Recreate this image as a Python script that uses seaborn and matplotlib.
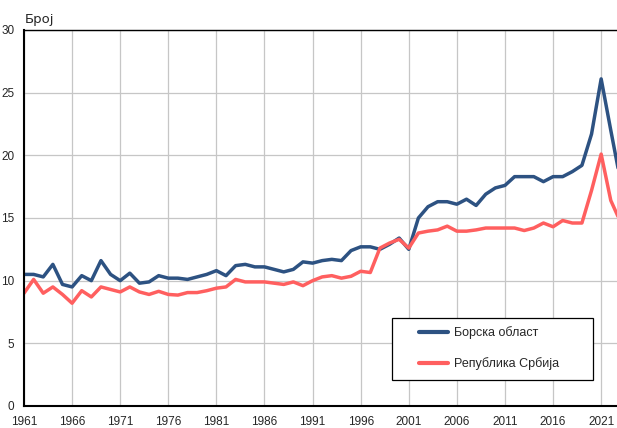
import pandas as pd
import matplotlib
matplotlib.use('Agg')
import matplotlib.pyplot as plt
from matplotlib.patches import Rectangle
import seaborn as sns

years = list(range(1961, 2024))
bor = [10.5, 10.5, 10.3, 11.3, 9.7, 9.5, 10.4, 10.0, 11.6, 10.5,
       10.0, 10.6, 9.8, 9.9, 10.4, 10.2, 10.2, 10.1, 10.3, 10.5,
       10.8, 10.4, 11.2, 11.3, 11.1, 11.1, 10.9, 10.7, 10.9, 11.5,
       11.4, 11.6, 11.7, 11.6, 12.4, 12.7, 12.7, 12.5, 12.9, 13.4,
       12.5, 15.0, 15.9, 16.3, 16.3, 16.1, 16.5, 16.0, 16.9, 17.4,
       17.6, 18.3, 18.3, 18.3, 17.9, 18.3, 18.3, 18.7, 19.2, 21.7,
       26.1, 22.0, 18.0]
srb = [9.0, 10.1, 9.0, 9.5, 8.9, 8.2, 9.2, 8.7, 9.5, 9.3,
       9.1, 9.5, 9.1, 8.9, 9.15, 8.9, 8.85, 9.05, 9.05, 9.2,
       9.4, 9.5, 10.1, 9.9, 9.9, 9.9, 9.8, 9.7, 9.9, 9.6,
       10.0, 10.3, 10.4, 10.2, 10.35, 10.75, 10.65, 12.6, 13.0, 13.3,
       12.6, 13.8, 13.95, 14.05, 14.35, 13.95, 13.95, 14.05, 14.2, 14.2,
       14.2, 14.2, 14.0, 14.2, 14.6, 14.3, 14.8, 14.6, 14.6, 17.2,
       20.1, 16.4, 14.7]
series = ['Борска област', 'Република Србија']
colors = ['#2d5282', '#ff5f5f']
xticks = list(range(1961, 2022, 5))
yticks = list(range(0, 31, 5))

df = pd.DataFrame({
    'year': years * 2,
    'value': bor + srb,
    'region': [series[0]] * len(years) + [series[1]] * len(years),
})

sns.set_style('white')
plt.rcParams['font.family'] = ['Liberation Sans', 'DejaVu Sans']

W, H = 617, 428
fig = plt.figure(figsize=(W / 100, H / 100), dpi=100)
# axes run past the right edge, as in the cropped original
ax = fig.add_axes([24 / W, 22 / H, 596.4 / W, 376 / H])

sns.lineplot(data=df, x='year', y='value', hue='region', palette=colors,
             linewidth=2.5, ax=ax, legend=False)

ax.set_xlim(1961, 2023)
ax.set_ylim(0, 30)
ax.set_xticks(xticks)
ax.set_yticks(yticks)
ax.set_xlabel('')
ax.set_ylabel('')
ax.grid(True, color='#c6c6c6', linewidth=0.9)
ax.set_axisbelow(True)
ax.tick_params(axis='x', length=0, pad=7.5, labelsize=8.5)
ax.tick_params(axis='y', length=0, pad=7, labelsize=8.5)
for s in ['left', 'bottom']:
    ax.spines[s].set_linewidth(1.5)
ax.spines['top'].set_linewidth(1.0)
for s in ax.spines.values():
    s.set_color('black')

fig.text(25 / W, 1 - 23 / H, 'Број', fontsize=9.5, family='DejaVu Sans')

# legend box
rect = Rectangle((392 / W, 1 - 380 / H), 201 / W, 62 / H, transform=fig.transFigure,
                 facecolor='white', edgecolor='black', linewidth=0.9,
                 zorder=4, clip_on=False)
ax.add_patch(rect)
handles = [plt.Line2D([], [], color=c, linewidth=3) for c in colors]
leg = ax.legend(handles, series, loc='upper left',
                bbox_to_anchor=(419 / W, 1 - 326 / H), bbox_transform=fig.transFigure,
                frameon=False, fontsize=9, borderpad=0, borderaxespad=0,
                handlelength=2.35, handletextpad=0.45, labelspacing=1.45)
leg.set_zorder(5)

fig.savefig('out.png', dpi=100)
